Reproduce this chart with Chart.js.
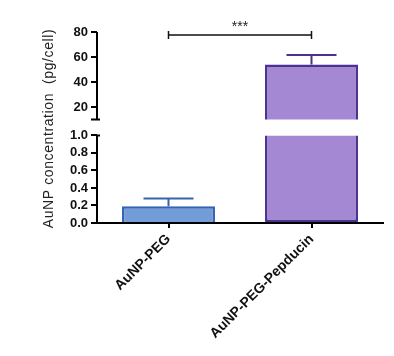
<!DOCTYPE html>
<html><head><meta charset="utf-8">
<script src="https://cdn.jsdelivr.net/npm/chart.js@4"></script>
<style>html,body{margin:0;padding:0;background:#fff}#wrap{width:394px;height:356px}</style>
</head><body><div id="wrap"><canvas id="c" width="394" height="356"></canvas></div>
<script>
const categories = ['AuNP-PEG', 'AuNP-PEG-Pepducin'];
const means = [0.19, 54];
const errors = [0.09, 7.6];
const lowerTicks = [0, 0.2, 0.4, 0.6, 0.8, 1.0];
const upperTicks = [20, 40, 60, 80];
const breakLow = 1.0, breakHigh = 10, upperMax = 80;
const sigLabel = '***';
const sigLevel = 77.6;
const yTitle = 'AuNP concentration  (pg/cell)';

const fills = ['#739dd9', '#a588d4'];
const borders = ['#3563b4', '#4b3290'];
const FONT = 'Liberation Sans, Arial, sans-serif';

const lowerData = means.map(v => Math.min(v, breakLow));
const upperData = means.map(v => v > breakHigh ? v : null);

const decor = {
  id: 'decor',
  afterDraw(chart) {
    const ctx = chart.ctx;
    const yT = chart.scales.yTop, yB = chart.scales.yBot, x = chart.scales.x;
    const ax = chart.chartArea.left;
    ctx.save();
    ctx.strokeStyle = '#000'; ctx.lineWidth = 2;
    ctx.beginPath();
    ctx.moveTo(ax, yT.getPixelForValue(upperMax)); ctx.lineTo(ax, yT.getPixelForValue(breakHigh));
    ctx.moveTo(ax - 6, yT.getPixelForValue(breakHigh)); ctx.lineTo(ax + 3, yT.getPixelForValue(breakHigh));
    ctx.moveTo(ax, yB.getPixelForValue(breakLow)); ctx.lineTo(ax, yB.getPixelForValue(0));
    ctx.moveTo(ax + 3, yB.getPixelForValue(breakLow)); ctx.lineTo(ax, yB.getPixelForValue(breakLow));
    ctx.stroke();
    means.forEach((m, i) => {
      const sc = m > breakHigh ? yT : yB;
      const cx = x.getPixelForValue(i);
      const y0 = sc.getPixelForValue(m), y1 = sc.getPixelForValue(m + errors[i]);
      ctx.strokeStyle = borders[i]; ctx.lineWidth = 2;
      ctx.beginPath();
      ctx.moveTo(cx, y0); ctx.lineTo(cx, y1);
      ctx.moveTo(cx - 25, y1); ctx.lineTo(cx + 25, y1);
      ctx.stroke();
    });
    const x0 = x.getPixelForValue(0), x1 = x.getPixelForValue(1), yb = yT.getPixelForValue(sigLevel);
    ctx.strokeStyle = '#111'; ctx.lineWidth = 1.5;
    ctx.beginPath();
    ctx.moveTo(x0, yb); ctx.lineTo(x1, yb);
    ctx.moveTo(x0, yb - 4); ctx.lineTo(x0, yb + 4);
    ctx.moveTo(x1, yb - 4); ctx.lineTo(x1, yb + 4);
    ctx.stroke();
    ctx.fillStyle = '#222'; ctx.font = '14px ' + FONT;
    ctx.textAlign = 'center'; ctx.textBaseline = 'middle';
    ctx.fillText(sigLabel, (x0 + x1) / 2, yb - 8);
    ctx.translate(49, (yT.top + yB.bottom) / 2 + 1);
    ctx.rotate(-Math.PI / 2);
    ctx.font = '14px ' + FONT; ctx.fillStyle = '#222';
    ctx.letterSpacing = '0.6px';
    ctx.fillText(yTitle, 0, 0);
    ctx.restore();
  }
};

const yCommon = {
  type: 'linear', position: 'left', stack: 'y',
  border: { display: false },
  grid: { drawOnChartArea: false, drawTicks: true, tickLength: 6, color: '#000', lineWidth: 2 },
  ticks: { color: '#111', padding: 3, autoSkip: false, font: { family: FONT, weight: 'bold', size: 13 } },
  afterFit: s => { s.width = 97; }
};

new Chart(document.getElementById('c'), {
  type: 'bar',
  data: {
    labels: categories,
    datasets: [
      { data: lowerData, yAxisID: 'yBot', grouped: false, backgroundColor: fills, borderColor: borders, borderWidth: 2.5,
        borderSkipped: c => means[c.dataIndex] > breakLow ? 'top' : 'start', barPercentage: 0.65, categoryPercentage: 1 },
      { data: upperData, yAxisID: 'yTop', grouped: false, backgroundColor: fills, borderColor: borders, borderWidth: 2.5,
        borderSkipped: 'start', barPercentage: 0.65, categoryPercentage: 1 }
    ]
  },
  options: {
    responsive: false, devicePixelRatio: 1, animation: false,
    layout: { padding: { top: 32, right: 11, bottom: 0, left: 0 } },
    plugins: { legend: { display: false }, tooltip: { enabled: false } },
    scales: {
      x: {
        grid: { drawOnChartArea: false, offset: false, tickLength: 5, color: '#000', lineWidth: 2 },
        border: { display: true, color: '#000', width: 2 },
        ticks: { maxRotation: 45, minRotation: 45, color: '#111', padding: 3, font: { family: FONT, weight: 'bold', size: 14 } },
        afterFit: s => { s.height = 133; }
      },
      yBot: Object.assign({}, yCommon, {
        stackWeight: 103.5, min: 0, max: 1.1815, weight: 0,
        afterBuildTicks: s => { s.ticks = lowerTicks.map(v => ({ value: v })); },
        ticks: Object.assign({}, yCommon.ticks, { callback: v => Number(v).toFixed(1) })
      }),
      yTop: Object.assign({}, yCommon, {
        stackWeight: 87.5, min: breakHigh, max: upperMax, weight: 1,
        afterBuildTicks: s => { s.ticks = upperTicks.map(v => ({ value: v })); },
        ticks: Object.assign({}, yCommon.ticks, { callback: v => String(v) })
      })
    }
  },
  plugins: [decor]
});
</script></body></html>
